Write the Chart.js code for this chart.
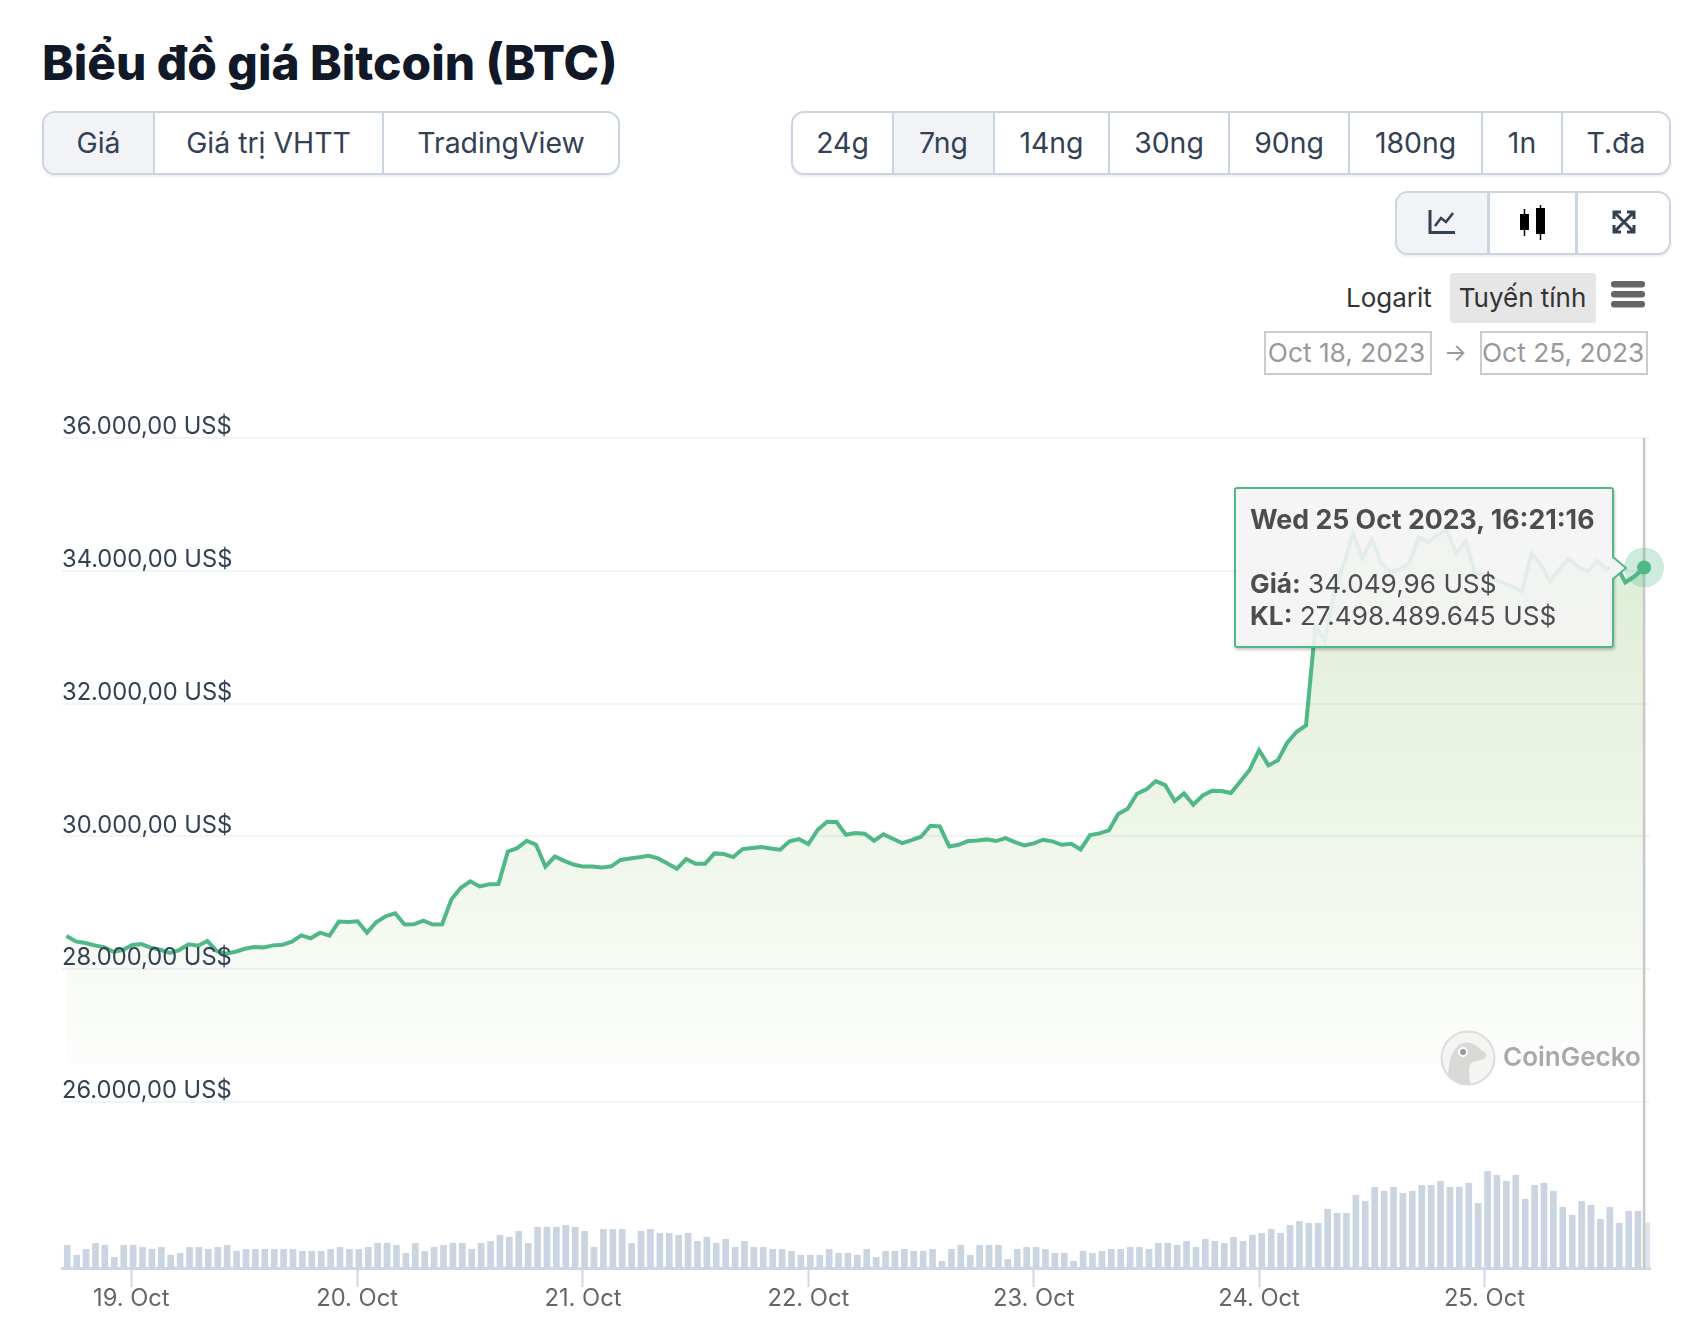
<!DOCTYPE html>
<html lang="vi">
<head>
<meta charset="utf-8">
<title>Biểu đồ giá Bitcoin (BTC)</title>
<script src="https://cdn.jsdelivr.net/npm/chart.js@4"></script>
<style>
    html, body { margin: 0; padding: 0; background: #fff; }
    body { width: 1702px; height: 1338px; position: relative; overflow: hidden; font-family: Inter, "Noto Sans", sans-serif; }
    canvas { position: absolute; left: 0; top: 0; }
    .abs { position: absolute; white-space: nowrap; }

    h1 { position: absolute; left: 42px; top: 33px; margin: 0; font-size: 47.8px; line-height: 60px; font-weight: 800; color: #111827; }

    .group { position: absolute; display: flex; box-sizing: border-box; border: 2px solid #cbd5e1; border-radius: 13px; overflow: hidden; box-shadow: 0 2px 2px rgba(15, 23, 42, 0.06); background: #fff; }
    .group div { box-sizing: border-box; display: flex; align-items: center; justify-content: center; padding-bottom: 2px; font-size: 28.4px; color: #334155; border-right: 2px solid #cbd5e1; flex: none; }
    .group div:last-child { border-right: 0; }
    .group .on { background: #f1f3f7; }
    .icons div { border-right-width: 3px; }

    .scale { font-size: 26px; line-height: 50px; color: #333; }
    .date { box-sizing: border-box; height: 44px; border: 2px solid #ccc; padding-right: 3px; font-size: 26.3px; line-height: 40px; color: #999; text-align: center; }

    #tooltip { left: 1234px; top: 487px; width: 380px; height: 161px; box-sizing: border-box; border: 2px solid #50b886; border-radius: 3px; background: rgba(244, 244, 244, 0.9); box-shadow: 1px 2px 3px rgba(0, 0, 0, 0.22); color: #4d4d4d; font-size: 26.2px; }
    #tooltip div { position: absolute; left: 14px; line-height: 32px; }
    #caret { left: 1605px; top: 556px; width: 24px; height: 24px; }
</style>
</head>
<body>

<h1>Biểu đồ giá Bitcoin (BTC)</h1>

<!-- nhóm nút trên cùng -->
<div class="group" style="left:42px;top:111px;width:578px;height:64px">
    <div class="on" style="width:111px">Giá</div>
    <div style="width:229px">Giá trị VHTT</div>
    <div style="width:234px">TradingView</div>
</div>

<div class="group" style="left:791px;top:111px;width:880px;height:64px">
    <div style="width:101px">24g</div>
    <div class="on" style="width:101px">7ng</div>
    <div style="width:115px">14ng</div>
    <div style="width:120px">30ng</div>
    <div style="width:120px">90ng</div>
    <div style="width:133px">180ng</div>
    <div style="width:80px">1n</div>
    <div style="width:106px">T.đa</div>
</div>

<div class="group icons" style="left:1395px;top:191px;width:276px;height:64px">
    <div class="on" style="width:93px">
        <svg width="28" height="24" viewBox="0 0 28 24" fill="none" stroke="#334155" stroke-width="3"><path d="M2 0V22.5H27"/><path d="M7 16L13 8L18 12L25 3" stroke-width="2.6"/></svg>
    </div>
    <div style="width:88px">
        <svg width="28" height="36" viewBox="0 0 28 36"><path d="M5.5 5V32M21.5 1V36" stroke="#000" stroke-width="1.5"/><rect x="1" y="10" width="9" height="16" fill="#000"/><rect x="17" y="4" width="9" height="26" fill="#000"/></svg>
    </div>
    <div style="width:91px">
        <svg width="24" height="24" viewBox="0 0 24 24" fill="none" stroke="#334155" stroke-width="3"><path d="M2 9V2H9M15 2H22V9M22 15V22H15M9 22H2V15M3 3L21 21M21 3L3 21"/></svg>
    </div>
</div>

<!-- logarit / tuyến tính -->
<div class="abs scale" style="left:1346px;top:273px">Logarit</div>
<div class="abs scale" style="left:1450px;top:273px;width:145px;text-align:center;background:#e6e6e6;border-radius:3px;padding-right:1px">Tuyến tính</div>
<svg class="abs" style="left:1611px;top:281px" width="34" height="27" viewBox="0 0 34 27" fill="#666"><rect width="34" height="6.5" rx="3"/><rect y="10" width="34" height="6.5" rx="3"/><rect y="20" width="34" height="6.5" rx="3"/></svg>

<div class="abs date" style="left:1264px;top:331px;width:168px">Oct 18, 2023</div>
<div class="abs" style="left:1444px;top:331px;font-size:24px;line-height:44px;color:#999">→</div>
<div class="abs date" style="left:1480px;top:331px;width:168px">Oct 25, 2023</div>

<canvas id="graficoPreco" width="1702" height="1338"></canvas>

<!-- logo -->
<svg class="abs" style="left:1440px;top:1030px" width="56" height="56" viewBox="0 0 56 56">
    <circle cx="28" cy="28" r="26.5" fill="#f4f4f3" stroke="#dcdcdc" stroke-width="2"/>
    <path d="M8 46C9 30 12 20 20 14C28 10 36 14 41 20C47 22 48 27 44 29C38 31 32 31 30 35C28 42 30 47 30 54C20 54 12 51 8 46Z" fill="#d9d9d7"/>
    <circle cx="23" cy="22" r="5" fill="#fff"/><circle cx="23" cy="22" r="3" fill="#9a9a9a"/>
</svg>
<div class="abs" style="left:1503px;top:1040px;font-size:26px;line-height:34px;font-weight:600;color:#a9a9a9">CoinGecko</div>

<!-- tooltip -->
<div class="abs" id="tooltip">
    <div style="top:14px;font-weight:700;font-size:26.7px">Wed 25 Oct 2023, 16:21:16</div>
    <div style="top:79px"><b>Giá:</b> 34.049,96 US$</div>
    <div style="top:111px"><b>KL:</b> 27.498.489.645 US$</div>
</div>
<svg class="abs" id="caret" viewBox="0 0 24 24"><path d="M5 2H8L21 12L8 22H5Z" fill="#f3f3f3"/><path d="M8 1L21 12L8 23" fill="none" stroke="#50b886" stroke-width="2"/></svg>

<script>
// =====================================================
// DADOS
// =====================================================

// giá (US$), một điểm mỗi giờ
const priceValues = [
    28500, 28419, 28394, 28359, 28333, 28263, 28288, 28364, 28379, 28323,
    28293, 28247, 28288, 28374, 28354, 28424, 28273, 28232, 28263, 28308,
    28333, 28328, 28359, 28369, 28414, 28510, 28465, 28550, 28505, 28717,
    28712, 28722, 28550, 28712, 28798, 28843, 28672, 28677, 28732, 28672,
    28677, 29055, 29227, 29323, 29247, 29278, 29283, 29773, 29823, 29934,
    29874, 29545, 29697, 29631, 29576, 29545, 29545, 29530, 29550, 29646,
    29667, 29687, 29707, 29669, 29593, 29513, 29659, 29588, 29588, 29744,
    29734, 29689, 29809, 29824, 29839, 29819, 29799, 29925, 29960, 29885,
    30100, 30221, 30216, 30025, 30050, 30040, 29935, 30030, 29965, 29900,
    29945, 29995, 30161, 30151, 29849, 29874, 29930, 29940, 29955, 29930,
    29975, 29915, 29864, 29895, 29950, 29925, 29874, 29890, 29804, 30020,
    30045, 30090, 30336, 30417, 30643, 30708, 30833, 30773, 30532, 30648,
    30477, 30617, 30688, 30683, 30653, 30828, 31004, 31300, 31069, 31145,
    31411, 31576, 31672, 33165, 32954, 33667, 34093, 34570, 34194, 34470,
    34118, 33978, 34028, 34118, 34510, 34430, 34545, 34605, 34269, 34445,
    33968, 33943, 33877, 33817, 33757, 33692, 34259, 34093, 33842, 34028,
    34189, 34058, 33993, 34154, 34018, 34093, 33827, 33917, 34049.96
];

// khối lượng (tỷ US$)
const volumeValues = [
    13.9, 7.8, 11.4, 15.1, 13.9, 6.5, 13.9, 13.9, 12.6, 11.4,
    12.6, 7.8, 9.0, 12.6, 12.6, 11.4, 12.6, 13.9, 10.2, 11.4,
    11.4, 11.4, 11.4, 11.4, 11.4, 10.2, 10.2, 10.2, 11.4, 12.6,
    11.4, 11.4, 12.6, 15.1, 15.1, 13.9, 9.0, 15.1, 10.2, 12.6,
    13.9, 15.1, 15.1, 11.4, 15.1, 16.3, 20.0, 18.8, 22.4, 15.1,
    24.9, 24.9, 24.9, 26.1, 24.9, 22.4, 12.6,
    23.6, 23.6, 23.6, 15.1, 22.4, 23.6, 21.2, 21.2, 20.0, 21.2,
    16.3, 18.8, 15.1, 17.5, 12.6, 16.3, 12.6, 12.6, 11.4, 11.4,
    10.2, 7.8, 7.8, 7.8, 11.4, 9.0, 9.0, 7.8, 11.4, 6.5,
    10.2, 10.2, 11.4, 10.2, 10.2, 11.4, 4.1, 11.4, 13.9, 7.8,
    13.9, 13.9, 13.9, 5.3, 11.4, 12.6, 12.6, 11.4, 9.0, 9.0,
    4.1, 10.2, 9.0, 10.2, 11.4, 11.4, 12.6, 12.6, 11.4, 15.1,
    15.1, 13.9, 16.3, 12.6,
    17.5, 16.3, 15.1, 18.8, 16.3, 20.0, 21.2, 23.6, 21.2, 26.1,
    28.5, 27.3, 27.3, 35.9, 33.4, 33.4, 44.4, 40.8, 49.3, 46.9,
    49.3, 45.6, 46.9, 50.5, 50.5, 53.0, 49.3, 49.3, 51.8, 39.5,
    59.1, 56.6, 53.0, 56.6, 42.0, 50.5, 51.8, 46.9, 37.1, 32.2,
    40.8, 38.3, 29.8, 37.1, 27.3, 34.6, 34.6, 27.5
];

// eixo x: horas desde o primeiro ponto
const dayTickHours = [6.9, 30.95, 55, 79, 103, 127, 151];
const dayTickLabels = ["19. Oct", "20. Oct", "21. Oct", "22. Oct", "23. Oct", "24. Oct", "25. Oct"];

// eixo y
const priceTickValues = [26000, 28000, 30000, 32000, 34000, 36000];
const priceTickLabels = ["26.000,00 US$", "28.000,00 US$", "30.000,00 US$", "32.000,00 US$", "34.000,00 US$", "36.000,00 US$"];

// =====================================================
// GRÁFICO
// =====================================================

const hours = priceValues.map((_, i) => i);
const lastIndex = priceValues.length - 1;
const lastPointOnly = priceValues.map((v, i) => i === lastIndex ? v : null);

Chart.defaults.font.family = "Inter, 'Noto Sans', sans-serif";
Chart.defaults.animation = false;

const canvas = document.getElementById("graficoPreco");

function areaGradient(ctx){
    const { chart } = ctx;
    if(!chart.chartArea) return "rgba(120,180,80,0.1)";
    const y = chart.scales.y;
    const g = chart.ctx.createLinearGradient(0, y.getPixelForValue(34600), 0, y.getPixelForValue(26570));
    g.addColorStop(0, "rgba(120,180,80,0.25)");
    g.addColorStop(1, "rgba(120,180,80,0.02)");
    return g;
}

new Chart(canvas, {
    data: {
        labels: hours,
        datasets: [
            {
                // cursor vertical
                type: "line",
                data: [{ x: lastIndex, y: 23500 }, { x: lastIndex, y: 36000 }],
                borderColor: "#c8c8c8",
                borderWidth: 2.5,
                pointRadius: 0,
                order: 1
            },
            {
                type: "line",
                data: priceValues,
                yAxisID: "y",
                borderColor: "#50b886",
                borderWidth: 4,
                borderJoinStyle: "miter",
                tension: 0,
                pointRadius: 0,
                fill: { value: 26570 },
                backgroundColor: areaGradient,
                order: 2
            },
            {
                // marcador final
                type: "line",
                data: lastPointOnly,
                yAxisID: "y",
                showLine: false,
                clip: false,
                pointRadius: 7,
                pointBackgroundColor: "#50b886",
                pointBorderWidth: 0,
                order: 0
            },
            {
                type: "line",
                data: lastPointOnly,
                yAxisID: "y",
                showLine: false,
                clip: false,
                pointRadius: 20,
                pointBackgroundColor: "rgba(80,184,134,0.28)",
                pointBorderWidth: 0,
                order: 0
            },
            {
                type: "bar",
                data: volumeValues,
                xAxisID: "xVol",
                yAxisID: "yVol",
                barThickness: 6,
                backgroundColor: ctx => ctx.dataIndex === lastIndex ? "#dde3ec" : "#cbd5e1",
                order: 3
            }
        ]
    },
    options: {
        responsive: false,
        devicePixelRatio: 1,
        layout: { padding: { left: 62, right: 52, top: 438, bottom: 0 } },
        plugins: {
            legend: { display: false },
            title: { display: false },
            tooltip: { enabled: false }
        },
        scales: {
            x: {
                type: "linear",
                offset: false,
                min: -0.48,
                max: 168.63,
                afterBuildTicks: scale => { scale.ticks = dayTickHours.map(v => ({ value: v })); },
                afterFit: scale => { scale.height = 70; },
                border: { color: "#ccd6eb", width: 3 },
                grid: { offset: false, drawOnChartArea: false, color: "#ccd6eb", tickLength: 19, tickWidth: 2 },
                ticks: {
                    autoSkip: false,
                    maxRotation: 0,
                    padding: -2.5,
                    color: "#666",
                    font: { size: 23.7 },
                    callback: (value, index) => dayTickLabels[index]
                }
            },
            // as barras têm um passo um pouco diferente da linha
            xVol: {
                type: "linear",
                display: false,
                offset: false,
                min: -0.24,
                max: 168.59
            },
            y: {
                position: "left",
                min: 23500,
                max: 36000,
                afterBuildTicks: scale => { scale.ticks = priceTickValues.map(v => ({ value: v })); },
                afterFit: scale => { scale.width = 0; },
                border: { display: false },
                grid: { color: "#f1f4f9", lineWidth: 2, drawTicks: false },
                ticks: {
                    mirror: true,
                    z: 1,
                    padding: 0,
                    labelOffset: -11,
                    autoSkip: false,
                    color: "#334155",
                    font: { size: 23.7 },
                    callback: (value, index) => priceTickLabels[index]
                }
            },
            yVol: {
                display: false,
                min: 0,
                max: 507
            }
        }
    }
});
</script>
</body>
</html>
